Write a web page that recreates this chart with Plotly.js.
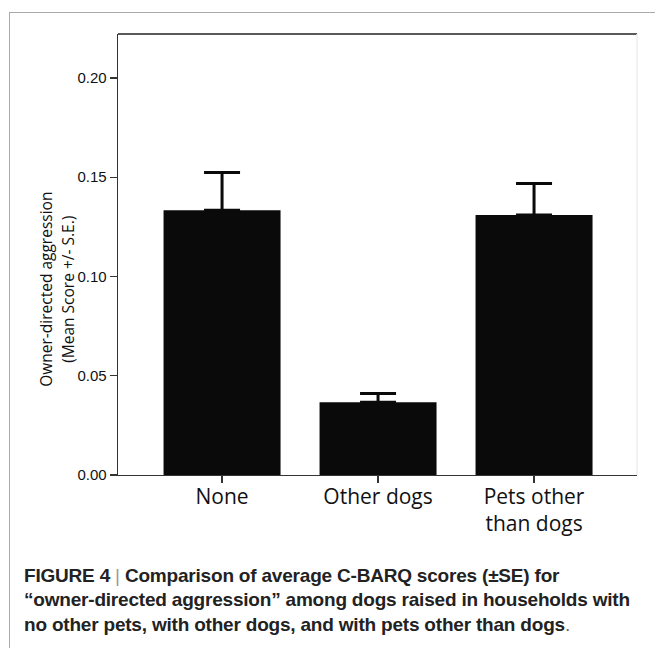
<!DOCTYPE html>
<html>
<head>
<meta charset="utf-8">
<script src="https://cdn.plot.ly/plotly-3.0.1.min.js"></script>
<style>
  html, body { margin:0; padding:0; background:#fff; width:655px; height:648px; overflow:hidden; }
  #frame { position:absolute; left:9px; top:12px; width:700px; height:700px;
           border-left:1.5px solid #aaa; border-top:1.5px solid #aaa; }
  #chart { position:absolute; left:0; top:0; width:655px; height:648px; }
  #caption { position:absolute; left:24px; top:564px; width:625px;
             font-family:"Liberation Sans",Arial,sans-serif;
             font-weight:bold; font-size:19px; letter-spacing:-0.2px; line-height:24.4px; color:#222; white-space:nowrap; }
  #caption .sep { color:#999; font-weight:normal; }
  #caption .dot { color:#666; font-weight:normal; }
</style>
</head>
<body>
<div id="frame"></div>
<div id="chart"></div>
<div id="caption">FIGURE 4 <span class="sep">|</span> Comparison of average C-BARQ scores (±SE) for<br>“owner-directed aggression” among dogs raised in households with<br>no other pets, with other dogs, and with pets other than dogs<span class="dot">.</span></div>
<script>
// Data
var categories = ['None', 'Other dogs', 'Pets other than dogs'];
var tickLabels = ['None', 'Other dogs', 'Pets other<br>than dogs'];
var meanScores = [0.1333, 0.0366, 0.1309];
var standardErrors = [0.0190, 0.0044, 0.0159];
var yTickValues = [0, 0.05, 0.10, 0.15, 0.20];

var trace = {
  type: 'bar',
  x: categories,
  y: meanScores,
  marker: { color: '#0a0a0a', line: { width: 0 } },
  error_y: {
    type: 'data',
    symmetric: false,
    array: standardErrors,
    arrayminus: standardErrors.map(function () { return 0; }),
    color: '#0a0a0a',
    thickness: 3,
    width: 18
  },
  hoverinfo: 'none'
};

var layout = {
  width: 655,
  height: 648,
  margin: { l: 118, r: 17.5, t: 33.5, b: 173 },
  paper_bgcolor: 'rgba(0,0,0,0)',
  plot_bgcolor: 'rgba(0,0,0,0)',
  showlegend: false,
  bargap: 0.25,
  xaxis: {
    type: 'category',
    range: [-0.667, 2.66],
    tickvals: categories,
    ticktext: tickLabels,
    ticks: 'outside',
    ticklen: 7,
    tickwidth: 1.3,
    tickcolor: '#333',
    ticklabelstandoff: -5,
    showline: true,
    linecolor: '#333',
    linewidth: 1.3,
    showgrid: false,
    zeroline: false,
    tickfont: { family: 'Open Sans, sans-serif', size: 21, color: '#111' }
  },
  yaxis: {
    range: [0, 0.2221],
    tickvals: yTickValues,
    tickformat: '.2f',
    ticks: 'outside',
    ticklen: 7,
    tickwidth: 1.3,
    tickcolor: '#333',
    showline: true,
    linecolor: '#333',
    linewidth: 1.3,
    showgrid: false,
    zeroline: false,
    tickfont: { family: 'Liberation Sans, Arial, sans-serif', size: 15, color: '#111' }
  },
  shapes: [
    { type: 'line', xref: 'paper', yref: 'paper', x0: 0, x1: 1, y0: 1, y1: 1,
      line: { color: '#222', width: 1.5 } },
    { type: 'line', xref: 'paper', yref: 'paper', x0: 1, x1: 1, y0: 0, y1: 1,
      line: { color: '#eeeeee', width: 1.5 } }
  ],
  annotations: [
    { text: 'Owner-directed aggression', xref: 'paper', yref: 'paper',
      x: (46.5 - 118) / 519.5, y: (475 - 289) / 441.5, xanchor: 'center', yanchor: 'middle',
      textangle: -90, showarrow: false,
      font: { family: 'Open Sans, sans-serif', size: 15.5, color: '#111' } },
    { text: '(Mean Score +/- S.E.)', xref: 'paper', yref: 'paper',
      x: (68.5 - 118) / 519.5, y: (475 - 289) / 441.5, xanchor: 'center', yanchor: 'middle',
      textangle: -90, showarrow: false,
      font: { family: 'Open Sans, sans-serif', size: 15.5, color: '#111' } }
  ]
};

Plotly.newPlot('chart', [trace], layout, { displayModeBar: false, staticPlot: true });
</script>
</body>
</html>
